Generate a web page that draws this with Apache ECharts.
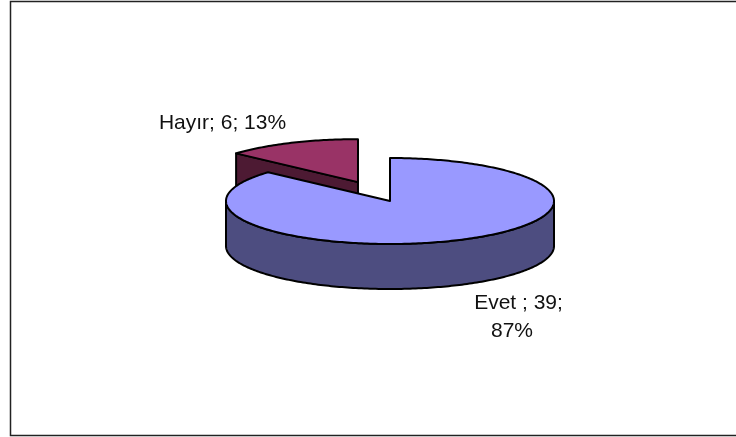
<!DOCTYPE html>
<html>
<head>
<meta charset="utf-8">
<style>
  html, body { margin: 0; padding: 0; background: #fff; }
  #chart { width: 736px; height: 437px; }
</style>
<script src="https://cdn.jsdelivr.net/npm/echarts@6/dist/echarts.min.js"></script>
</head>
<body>
<div id="chart"></div>
<script>
const categories = ['Evet ', 'Hayır'];
const values = [39, 6];
const topColors = ['#9999ff', '#993366'];
const sideColors = ['#4d4d80', '#4d1a33'];

// pie layout, measured on the picture
const cx = 390, cy = 201, rx = 164, ry = 43, depth = 45;
const explode = [0, 0.48];
// label line anchors (center x, middle y), one entry per wrapped line
const labelLines = [
  [[518.5, 303], [512, 331]],
  [[222.5, 123]]
];

const total = values.reduce((a, b) => a + b, 0);

function rad(deg) {
  return deg * Math.PI / 180;
}

// deg is clockwise from 12 o'clock
function rim(x0, y0, deg) {
  return [x0 + rx * Math.sin(rad(deg)), y0 - ry * Math.cos(rad(deg))];
}

function arc(x0, y0, from, to) {
  const pts = [];
  const n = Math.max(2, Math.ceil((to - from) / 1));
  for (let i = 0; i <= n; i++) {
    pts.push(rim(x0, y0, from + (to - from) * i / n));
  }
  return pts;
}

function sliceLabel(i) {
  const pct = Math.round(values[i] / total * 100) + '%';
  if (labelLines[i].length > 1) {
    return [categories[i] + '; ' + values[i] + ';', pct];
  }
  return [categories[i] + '; ' + values[i] + '; ' + pct];
}

function renderSlice(params, api) {
  const i = params.dataIndex;
  let before = 0;
  for (let k = 0; k < i; k++) before += values[k];
  const from = before / total * 360;
  const to = (before + api.value(0)) / total * 360;
  const mid = rad((from + to) / 2);
  const x0 = cx + explode[i] * rx * Math.sin(mid);
  const y0 = cy - explode[i] * ry * Math.cos(mid);
  const z = 10 * (values.length - i);
  const line = { stroke: '#000', lineWidth: 2, lineJoin: 'round' };
  const children = [];

  // cut faces that look towards the viewer
  if (Math.sin(rad(from)) < -0.001) {
    const p = rim(x0, y0, from);
    children.push({
      type: 'polygon', z2: z,
      shape: { points: [p, [x0, y0], [x0, y0 + depth], [p[0], p[1] + depth]] },
      style: Object.assign({ fill: sideColors[i] }, line)
    });
  }
  if (Math.sin(rad(to)) > 0.001) {
    const p = rim(x0, y0, to);
    children.push({
      type: 'polygon', z2: z,
      shape: { points: [p, [x0, y0], [x0, y0 + depth], [p[0], p[1] + depth]] },
      style: Object.assign({ fill: sideColors[i] }, line)
    });
  }

  // outer wall, front half only
  const a = Math.max(from, 90), b = Math.min(to, 270);
  if (b > a) {
    const upper = arc(x0, y0, a, b);
    const lower = upper.map(p => [p[0], p[1] + depth]).reverse();
    children.push({
      type: 'polygon', z2: z + 1,
      shape: { points: upper.concat(lower) },
      style: Object.assign({ fill: sideColors[i] }, line)
    });
  }

  // top face
  children.push({
    type: 'polygon', z2: z + 2,
    shape: { points: [[x0, y0]].concat(arc(x0, y0, from, to)) },
    style: Object.assign({ fill: topColors[i] }, line)
  });

  // data label
  sliceLabel(i).forEach((txt, n) => {
    children.push({
      type: 'text', z2: 100,
      x: labelLines[i][n][0],
      y: labelLines[i][n][1],
      style: {
        text: txt,
        fill: '#111',
        font: '21px "Liberation Sans", Arial, sans-serif',
        textAlign: 'center',
        textVerticalAlign: 'middle'
      }
    });
  });

  return { type: 'group', children: children };
}

const chart = echarts.init(document.getElementById('chart'));
chart.setOption({
  animation: false,
  backgroundColor: '#fff',
  graphic: [{
    type: 'polyline',
    silent: true,
    shape: { points: [[736, 1.5], [10.5, 1.5], [10.5, 435.5], [736, 435.5]] },
    style: { stroke: '#222', lineWidth: 1.5, fill: null }
  }],
  series: [{
    type: 'custom',
    coordinateSystem: 'none',
    renderItem: renderSlice,
    data: values.map(v => [v])
  }]
});
</script>
</body>
</html>
